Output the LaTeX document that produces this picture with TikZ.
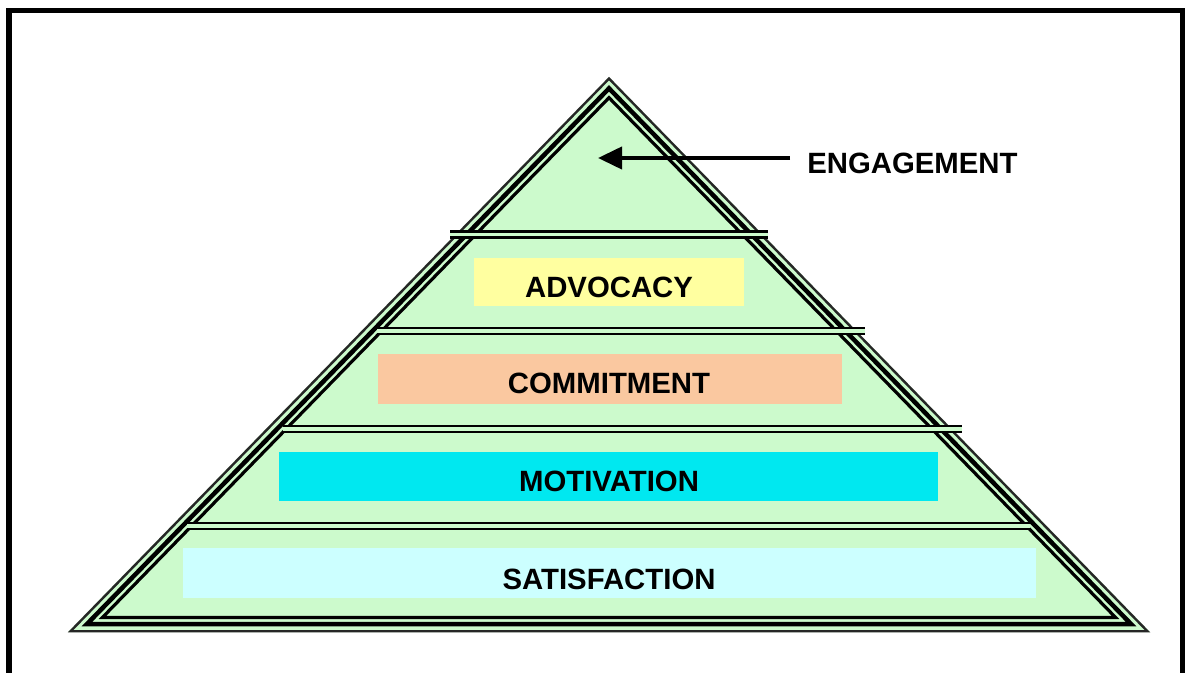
\documentclass[tikz,border=0pt]{standalone}
\usepackage{fontspec}
\setmainfont{Liberation Sans}
\usetikzlibrary{arrows.meta}
\definecolor{pyrgreen}{RGB}{204,250,204}
\definecolor{advy}{RGB}{255,255,160}
\definecolor{comm}{RGB}{250,200,160}
\definecolor{moti}{RGB}{0,232,240}
\definecolor{satis}{RGB}{204,255,255}
\tikzset{
  lvlbox/.style={draw=none, inner sep=0pt, anchor=north west},
  lvltext/.style={font=\fontsize{22}{22}\selectfont\bfseries, inner sep=0pt},
  sepline/.style={line width=2.5*0.75pt, double=pyrgreen, double distance=3.5*0.75pt},
}
\begin{document}
\begin{tikzpicture}[x=0.75pt,y=-0.75pt]
\useasboundingbox (0,0) rectangle (1187,673);
\clip (0,0) rectangle (1187,673);
\fill[white] (0,0) rectangle (1187,673);
% frame
\draw[line width=5.5*0.75pt] (9,10.5) rectangle (1182.5,720);
% pyramid
\fill[pyrgreen] (609,77) -- (68,632) -- (1150,632) -- cycle;
\draw[line width=2.4*0.75pt, black!85] (609,78.6) -- (70.6,631.2) -- (1147.4,631.2) -- cycle;
\draw[line width=4.5*0.75pt] (609,88.4) -- (87,624) -- (1131,624) -- cycle;
\draw[line width=3.2*0.75pt] (609,97.7) -- (102.4,617.5) -- (1115.6,617.5) -- cycle;
% separators
\draw[sepline] (450,234.5) -- (768,234.5);
\draw[sepline] (377,331) -- (865,331);
\draw[sepline] (283,429) -- (962,429);
\draw[sepline] (187,526) -- (1030,526);
% boxes
\node[lvlbox, fill=advy, minimum width=270*0.75pt, minimum height=48*0.75pt] (advbox) at (474,258) {};
\node[lvlbox, fill=comm, minimum width=464*0.75pt, minimum height=50*0.75pt] (commbox) at (378,354) {};
\node[lvlbox, fill=moti, minimum width=659*0.75pt, minimum height=49*0.75pt] (motibox) at (279,452) {};
\node[lvlbox, fill=satis, minimum width=853*0.75pt, minimum height=50*0.75pt] (satbox) at (183,548) {};
\node[lvltext] (adv) at (609,287) {ADVOCACY};
\node[lvltext] (comt) at (609,383) {COMMITMENT};
\node[lvltext] (moti) at (609,481) {MOTIVATION};
\node[lvltext] (sat) at (609,579) {SATISFACTION};
% engagement
\node[lvltext, anchor=west] (eng) at (807,163) {ENGAGEMENT};
\coordinate (tail) at (790,158);
\coordinate (tip) at (598,158);
\draw[line width=4*0.75pt, -{Triangle[length=24*0.75pt, width=22*0.75pt]}] (tail) -- (tip);
\end{tikzpicture}
\end{document}
